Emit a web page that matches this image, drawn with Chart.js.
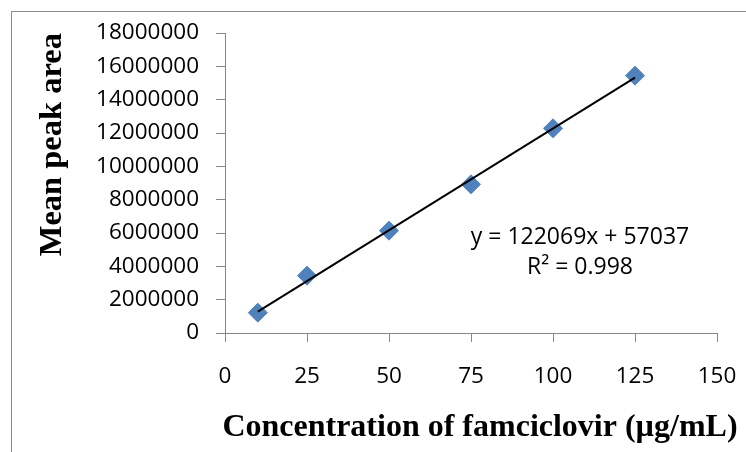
<!DOCTYPE html>
<html>
<head>
<meta charset="utf-8">
<script src="https://cdn.jsdelivr.net/npm/chart.js@4/dist/chart.umd.min.js"></script>
<style>
  html, body { margin: 0; padding: 0; background: #fff; overflow: hidden; }
  #wrap { position: relative; width: 746px; height: 452px; }
  #frame { position: absolute; left: 11px; top: 11px; width: 800px; height: 500px; border: 1.5px solid #8c8c8c; box-sizing: border-box; }
  canvas { position: absolute; left: 0; top: 0; }
</style>
</head>
<body>
<div id="wrap">
  <div id="frame"></div>
  <canvas id="c" width="746" height="452"></canvas>
</div>
<script>
// ---- data ----
const concentrations = [10, 25, 50, 75, 100, 125];
const meanPeakArea = [1220000, 3440000, 6140000, 8920000, 12280000, 15440000];
const trendX = [10, 125];
const trendY = [1280000, 15320000];
const equationLines = ['y = 122069x + 57037', 'R\u00B2 = 0.998'];
const xTitle = 'Concentration of famciclovir (\u00B5g/mL)';
const yTitle = 'Mean peak area';

const points = concentrations.map((x, i) => ({ x: x, y: meanPeakArea[i] }));
const trend = trendX.map((x, i) => ({ x: x, y: trendY[i] }));

const textPlugin = {
  id: 'texts',
  afterDatasetsDraw(chart) {
    const { ctx, chartArea } = chart;
    const w = chartArea.right - chartArea.left;
    const h = chartArea.bottom - chartArea.top;
    ctx.save();
    // trendline equation
    ctx.font = '23px "Open Sans"';
    ctx.fillStyle = '#000';
    ctx.textAlign = 'center';
    ctx.textBaseline = 'middle';
    const cx = chartArea.left + 0.7215 * w;
    ctx.fillText(equationLines[0], cx, chartArea.top + 0.68 * h);
    ctx.fillText(equationLines[1], cx, chartArea.top + 0.783 * h);
    // x-axis title (wider than the plot area, so drawn without squeezing)
    ctx.font = 'bold 32px "Liberation Serif"';
    ctx.textBaseline = 'alphabetic';
    ctx.fillText(xTitle, chartArea.left + 0.5183 * w, chartArea.bottom + 103);
    ctx.restore();
  }
};

new Chart(document.getElementById('c'), {
  type: 'scatter',
  data: {
    datasets: [
      {
        label: 'Linear',
        data: trend,
        showLine: true,
        borderColor: '#000',
        borderWidth: 2,
        pointRadius: 0,
        fill: false
      },
      {
        label: 'Mean peak area',
        data: points,
        pointStyle: 'rectRot',
        pointRadius: 9.5,
        pointBackgroundColor: '#4F81BD',
        pointBorderColor: '#4F81BD',
        pointBorderWidth: 1,
        showLine: false
      }
    ]
  },
  options: {
    responsive: false,
    animation: false,
    layout: { padding: { top: 33, right: 29, bottom: 0, left: 0 } },
    plugins: { legend: { display: false }, tooltip: { enabled: false } },
    scales: {
      x: {
        type: 'linear',
        min: 0, max: 150,
        afterFit(scale) { scale.height = 119; scale.paddingLeft = 0; scale.paddingRight = 0; },
        ticks: {
          stepSize: 25,
          padding: 21,
          color: '#000',
          font: { family: 'Open Sans', size: 22.5 },
          maxRotation: 0,
          callback: v => String(v)
        },
        grid: { display: true, drawOnChartArea: false, drawTicks: true, tickLength: 9, color: '#868686', lineWidth: 1 },
        border: { display: true, color: '#868686', width: 1 },
        title: { display: false, text: xTitle }
      },
      y: {
        type: 'linear',
        min: 0, max: 18000000,
        afterFit(scale) { scale.width = 225; },
        ticks: {
          stepSize: 2000000,
          padding: 17,
          color: '#000',
          font: { family: 'Open Sans', size: 22.5 },
          callback: v => String(v)
        },
        grid: { display: true, drawOnChartArea: false, drawTicks: true, tickLength: 9, color: '#868686', lineWidth: 1 },
        border: { display: true, color: '#868686', width: 1 },
        title: {
          display: true,
          text: yTitle,
          align: 'end',
          color: '#000',
          font: { family: 'Liberation Serif', size: 32.5, weight: 'bold' },
          padding: { top: 33, bottom: 0 }
        }
      }
    }
  },
  plugins: [textPlugin]
});
</script>
</body>
</html>
